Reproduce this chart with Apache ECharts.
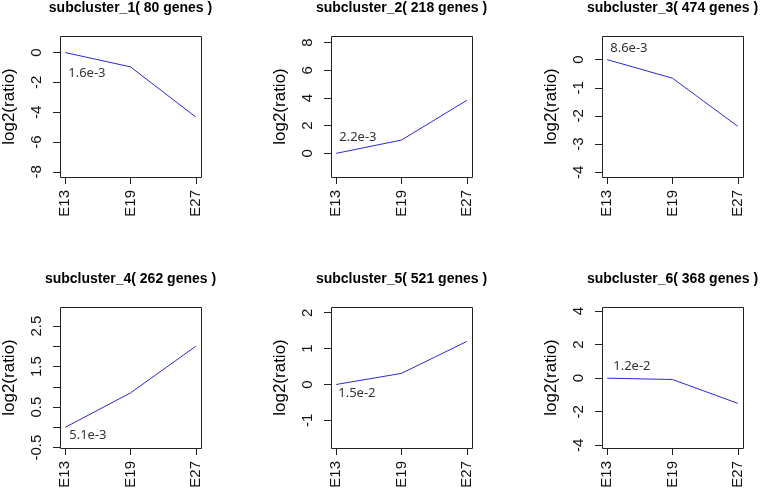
<!DOCTYPE html>
<html>
<head>
<meta charset="utf-8">
<script src="https://cdn.jsdelivr.net/npm/echarts@6/dist/echarts.min.js"></script>
<style>html,body{margin:0;padding:0;background:#fff}#c{width:760px;height:491px}</style>
</head>
<body>
<div id="c"></div>
<script>
// ---- data ----
var categories = ['E13', 'E19', 'E27'];
var titles = ['subcluster_1( 80 genes )', 'subcluster_2( 218 genes )', 'subcluster_3( 474 genes )',
              'subcluster_4( 262 genes )', 'subcluster_5( 521 genes )', 'subcluster_6( 368 genes )'];
var values1 = [0, -0.96, -4.32];
var values2 = [0, 0.96, 3.83];
var values3 = [0, -0.66, -2.37];
var values4 = [0, 0.85, 2.0];
var values5 = [0, 0.31, 1.2];
var values6 = [0, -0.08, -1.5];
var pvalues = ['1.6e-3', '2.2e-3', '8.6e-3', '5.1e-3', '1.5e-2', '1.2e-2'];
var yTicks1 = [-8, -6, -4, -2, 0];
var yTicks2 = [0, 2, 4, 6, 8];
var yTicks3 = [-4, -3, -2, -1, 0];
var yTicks4 = [-0.5, 0, 0.5, 1, 1.5, 2, 2.5];
var yLabels4 = [-0.5, 0.5, 1.5, 2.5];
var yTicks5 = [-1, 0, 1, 2];
var yTicks6 = [-4, -2, 0, 2, 4];
var yLabel = 'log2(ratio)';

// ---- layout / style (not data) ----
var allValues = [values1, values2, values3, values4, values5, values6];
var allTicks = [yTicks1, yTicks2, yTicks3, yTicks4, yTicks5, yTicks6];
var allLabels = [yTicks1, yTicks2, yTicks3, yLabels4, yTicks5, yTicks6];
var yExtents = [[-8.34, 1.11], [-1.71, 8.48], [-4.17, 0.84], [-0.51, 2.97], [-1.77, 2.16], [-4.16, 4.24]];
var labelOffsets = [[3, 21], [3, -16], [3, -11], [4, 8], [2, 9], [6, -12]];
var colLeft = [60, 331, 602];
var rowTop = [36, 307];
var W = 141, H = 141;
var titleTop = [1, 272];
var FONT = 'Liberation Sans, Arial, sans-serif';
var LINE = '#2a2ad4';
var BOX = '#222';

var grids = [], xAxes = [], yAxes = [], series = [], titleArr = [], boxes = [];
for (var k = 0; k < 6; k++) {
  var r = Math.floor(k / 3), c = k % 3;
  grids.push({left: colLeft[c], top: rowTop[r], width: W, height: H, show: false, containLabel: false});
  boxes.push({type: 'rect', silent: true, z: 100,
    shape: {x: colLeft[c] + 0.5, y: rowTop[r] + 0.5, width: W, height: H},
    style: {fill: 'none', stroke: BOX, lineWidth: 1}});
  titleArr.push({text: titles[k], left: colLeft[c] + W / 2, top: titleTop[r], textAlign: 'center', padding: 0,
    textStyle: {fontFamily: FONT, fontSize: 14, fontWeight: 'bold', color: '#000'}});
  xAxes.push({type: 'value', gridIndex: k, min: -0.08, max: 2.08, position: 'bottom',
    splitLine: {show: false}, axisLine: {show: false, onZero: false},
    axisTick: {show: true, length: 7, customValues: [0, 1, 2], lineStyle: {color: BOX}},
    axisLabel: {show: true, rotate: 90, margin: 13, customValues: [0, 1, 2],
      fontFamily: FONT, fontSize: 15, color: '#111',
      formatter: function (v) { return categories[Math.round(v)] || ''; }}});
  yAxes.push({type: 'value', gridIndex: k, min: yExtents[k][0], max: yExtents[k][1], position: 'left',
    splitLine: {show: false}, axisLine: {show: false, onZero: false},
    axisTick: {show: true, length: 7, customValues: allTicks[k], lineStyle: {color: BOX}},
    axisLabel: {show: true, rotate: 90, margin: 16, customValues: allLabels[k],
      fontFamily: FONT, fontSize: 15, color: '#111', formatter: function (v) { return String(v); }},
    name: yLabel, nameLocation: 'middle', nameGap: 42,
    nameTextStyle: {fontFamily: FONT, fontSize: 17, color: '#000'}});
  var vals = allValues[k];
  var data = categories.map(function (cat, i) {
    var item = {value: [i, vals[i]]};
    if (i === 0) {
      item.label = {show: true, formatter: pvalues[k], position: labelOffsets[k], align: 'left',
        verticalAlign: 'middle', fontFamily: 'Noto Sans, sans-serif', fontSize: 13, color: '#333'};
    }
    return item;
  });
  series.push({type: 'line', xAxisIndex: k, yAxisIndex: k, data: data,
    symbol: 'circle', symbolSize: 0, showSymbol: true,
    lineStyle: {color: LINE, width: 1}, itemStyle: {color: LINE},
    label: {show: false}, emphasis: {disabled: true}, silent: true});
}

var chart = echarts.init(document.getElementById('c'), null, {renderer: 'canvas'});
chart.setOption({
  animation: false,
  backgroundColor: '#fff',
  title: titleArr,
  grid: grids,
  xAxis: xAxes,
  yAxis: yAxes,
  series: series,
  graphic: boxes
});
</script>
</body>
</html>
